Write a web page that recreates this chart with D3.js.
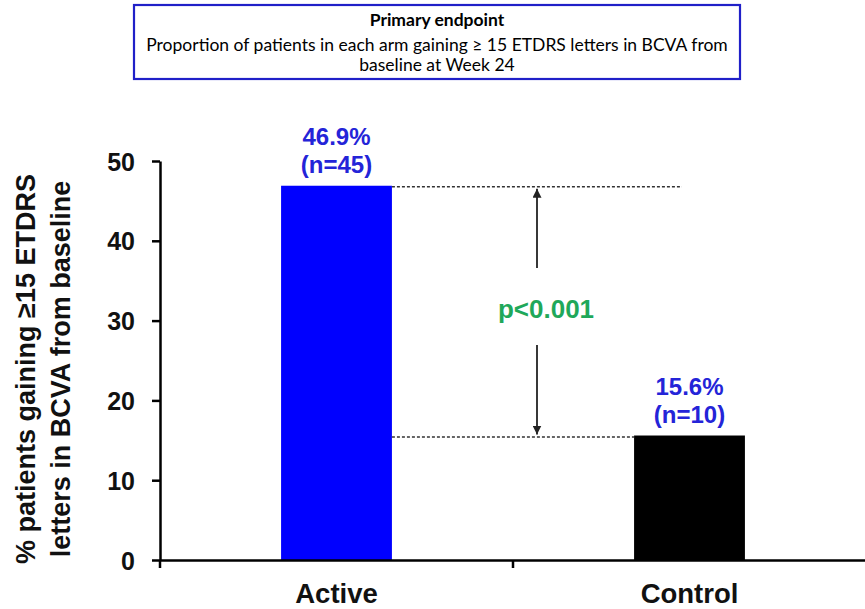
<!DOCTYPE html>
<html><head><meta charset="utf-8">
<script src="https://cdn.jsdelivr.net/npm/d3@7"></script>
<style>body{margin:0;background:#fff}svg{display:block}</style>
</head><body>
<script>
const categories = ["Active", "Control"];
const values = [46.9, 15.6];
const nLabels = ["(n=45)", "(n=10)"];
const pctLabels = ["46.9%", "15.6%"];
const barColors = ["#0000ff", "#000000"];
const yTicks = [0, 10, 20, 30, 40, 50];
const titleLines = ["Primary endpoint", "Proportion of patients in each arm gaining \u2265 15 ETDRS letters in BCVA from", "baseline at Week 24"];
const pText = "p<0.001";

const W = 865, H = 609;
const svg = d3.select("body").append("svg").attr("width", W).attr("height", H);

const x = d3.scaleBand().domain(categories).range([160, 866]).padding(0);
const y = d3.scaleLinear().domain([0, 50]).range([560, 161]);
const barFrac = 0.314;
const bw = x.bandwidth() * barFrac;
const bx = d => x(d) + (x.bandwidth() - bw) / 2;

// title box
svg.append("rect").attr("x", 134).attr("y", 5).attr("width", 606).attr("height", 74)
  .attr("fill", "#fff").attr("stroke", "#2020c8").attr("stroke-width", 2.2);
const tfont = "Lato, 'Open Sans', sans-serif";
svg.append("text").attr("x", 437).attr("y", 26).attr("text-anchor", "middle")
  .attr("font-family", tfont).attr("font-weight", "bold").attr("font-size", 17.5).text(titleLines[0]);
svg.append("text").attr("x", 437).attr("y", 51).attr("text-anchor", "middle")
  .attr("font-family", tfont).attr("font-size", 17.5).text(titleLines[1]);
svg.append("text").attr("x", 437).attr("y", 71).attr("text-anchor", "middle")
  .attr("font-family", tfont).attr("font-size", 17.5).text(titleLines[2]);

// bars
svg.selectAll("rect.bar").data(categories).enter().append("rect").attr("class", "bar")
  .attr("x", d => bx(d)).attr("width", bw)
  .attr("y", (d, i) => y(values[i])).attr("height", (d, i) => y(0) - y(values[i]))
  .attr("fill", (d, i) => barColors[i]);

// axes
const bold = "Arial, 'Liberation Sans', sans-serif";
const yAxis = d3.axisLeft(y).tickValues(yTicks).tickSize(8).tickSizeOuter(0);
const gy = svg.append("g").attr("transform", "translate(160,0)").call(yAxis);
gy.select(".domain").attr("stroke", "#000").attr("stroke-width", 2.5);
gy.selectAll(".tick line").attr("stroke", "#000").attr("stroke-width", 2.5);
gy.selectAll(".tick text").attr("font-family", bold).attr("font-weight", "bold")
  .attr("font-size", 25).attr("fill", "#111").attr("x", -25).attr("dy", "0.36em");

const xAxis = d3.axisBottom(x).tickSize(0).tickSizeOuter(0);
const gx = svg.append("g").attr("transform", "translate(0,560)").call(xAxis);
gx.select(".domain").attr("stroke", "#000").attr("stroke-width", 2.5);
gx.selectAll(".tick text").attr("font-family", bold).attr("font-weight", "bold")
  .attr("font-size", 27.5).attr("fill", "#111").attr("y", 43).attr("dy", 0);
// boundary ticks
const bounds = categories.map(c => x(c));
gx.selectAll("line.bt").data(bounds).enter().append("line").attr("class", "bt")
  .attr("x1", d => d).attr("x2", d => d).attr("y1", 0).attr("y2", 8)
  .attr("stroke", "#000").attr("stroke-width", 2.5);

// y title
const yt = svg.append("text").attr("transform", "translate(0,369) rotate(-90)")
  .attr("text-anchor", "middle").attr("font-family", bold).attr("font-weight", "bold")
  .attr("font-size", 27).attr("fill", "#111");
yt.append("tspan").attr("x", 0).attr("y", 35).text("% patients gaining \u226515 ETDRS");
yt.append("tspan").attr("x", 0).attr("y", 70).text("letters in BCVA from baseline");

// value labels
const lblColor = "#2424d8";
categories.forEach((c, i) => {
  const cx = x(c) + x.bandwidth() / 2;
  svg.append("text").attr("x", cx).attr("y", y(values[i]) - 41).attr("text-anchor", "middle")
    .attr("font-family", bold).attr("font-weight", "bold").attr("font-size", 24).attr("fill", lblColor).text(pctLabels[i]);
  svg.append("text").attr("x", cx).attr("y", y(values[i]) - 13).attr("text-anchor", "middle")
    .attr("font-family", bold).attr("font-weight", "bold").attr("font-size", 24).attr("fill", lblColor).text(nLabels[i]);
});

// dashed reference lines
const activeRight = bx(categories[0]) + bw;
svg.append("line").attr("x1", activeRight).attr("x2", 682).attr("y1", y(values[0]) + 1).attr("y2", y(values[0]) + 1)
  .attr("stroke", "#333").attr("stroke-width", 1.5).attr("stroke-dasharray", "3,2");
svg.append("line").attr("x1", activeRight).attr("x2", bx(categories[1])).attr("y1", y(values[1]) + 1.5).attr("y2", y(values[1]) + 1.5)
  .attr("stroke", "#333").attr("stroke-width", 1.5).attr("stroke-dasharray", "3,2");

// arrows
const defs = svg.append("defs");
defs.append("marker").attr("id", "ah").attr("viewBox", "0 0 10 10").attr("refX", 10).attr("refY", 5)
  .attr("markerWidth", 9).attr("markerHeight", 9).attr("markerUnits", "userSpaceOnUse").attr("orient", "auto")
  .append("path").attr("d", "M0,0 L10,5 L0,10 Z").attr("fill", "#222");
const ax = 537;
svg.append("line").attr("x1", ax).attr("x2", ax).attr("y1", 268).attr("y2", y(values[0]) + 3)
  .attr("stroke", "#222").attr("stroke-width", 1.8).attr("marker-end", "url(#ah)");
svg.append("line").attr("x1", ax).attr("x2", ax).attr("y1", 345).attr("y2", y(values[1]) - 1)
  .attr("stroke", "#222").attr("stroke-width", 1.8).attr("marker-end", "url(#ah)");

svg.append("text").attr("x", 546).attr("y", 318).attr("text-anchor", "middle")
  .attr("font-family", bold).attr("font-weight", "bold").attr("font-size", 26).attr("fill", "#1fa85a").text(pText);
</script>
</body></html>
